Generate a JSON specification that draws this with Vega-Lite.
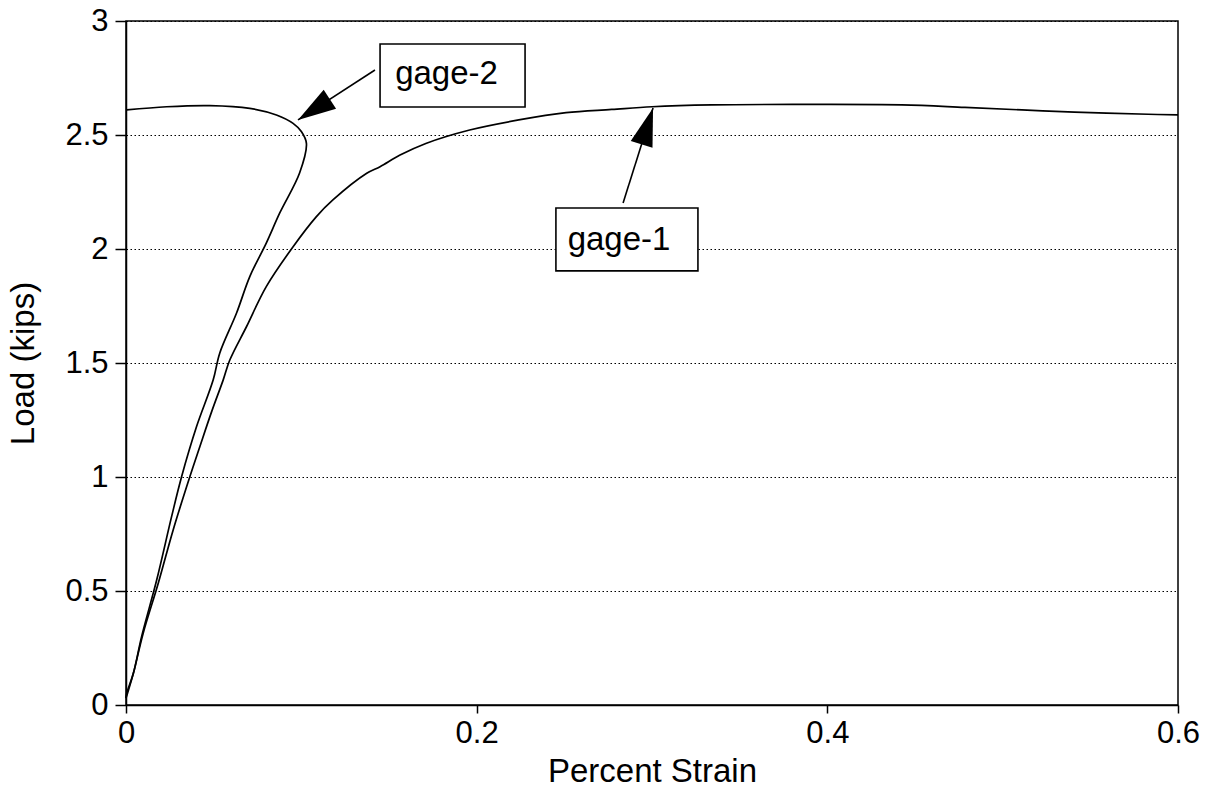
{
  "$schema": "https://vega.github.io/schema/vega-lite/v6.json",
  "width": 1052,
  "height": 684,
  "autosize": {"type": "none"},
  "padding": {"left": 126, "top": 21, "right": 32, "bottom": 88},
  "background": "white",
  "config": {
    "view": {"stroke": "black", "strokeWidth": 1.5},
    "font": "Liberation Sans",
    "axis": {
      "domainColor": "black",
      "domainWidth": 1.5,
      "tickColor": "black",
      "tickWidth": 1.5,
      "labelColor": "black",
      "labelFont": "Liberation Sans",
      "labelFontSize": 31,
      "titleFont": "Liberation Sans",
      "titleFontSize": 33,
      "titleFontWeight": "normal",
      "titleColor": "black",
      "gridColor": "black",
      "gridOpacity": 1,
      "gridWidth": 1.2,
      "labelFlush": false
    }
  },
  "datasets": {
    "curves": [
      {"gage": "gage-1", "i": 1, "x": 0, "y": 0.03},
      {"gage": "gage-1", "i": 2, "x": 0.0042, "y": 0.139},
      {"gage": "gage-1", "i": 3, "x": 0.0098, "y": 0.315},
      {"gage": "gage-1", "i": 4, "x": 0.0184, "y": 0.534},
      {"gage": "gage-1", "i": 5, "x": 0.0269, "y": 0.768},
      {"gage": "gage-1", "i": 6, "x": 0.0364, "y": 1.001},
      {"gage": "gage-1", "i": 7, "x": 0.0421, "y": 1.133},
      {"gage": "gage-1", "i": 8, "x": 0.049, "y": 1.29},
      {"gage": "gage-1", "i": 9, "x": 0.0554, "y": 1.425},
      {"gage": "gage-1", "i": 10, "x": 0.0592, "y": 1.513},
      {"gage": "gage-1", "i": 11, "x": 0.0687, "y": 1.659},
      {"gage": "gage-1", "i": 12, "x": 0.08, "y": 1.835},
      {"gage": "gage-1", "i": 13, "x": 0.0953, "y": 2.01},
      {"gage": "gage-1", "i": 14, "x": 0.1086, "y": 2.142},
      {"gage": "gage-1", "i": 15, "x": 0.118, "y": 2.215},
      {"gage": "gage-1", "i": 16, "x": 0.1373, "y": 2.332},
      {"gage": "gage-1", "i": 17, "x": 0.1449, "y": 2.361},
      {"gage": "gage-1", "i": 18, "x": 0.1563, "y": 2.412},
      {"gage": "gage-1", "i": 19, "x": 0.171, "y": 2.463},
      {"gage": "gage-1", "i": 20, "x": 0.196, "y": 2.522},
      {"gage": "gage-1", "i": 21, "x": 0.224, "y": 2.566},
      {"gage": "gage-1", "i": 22, "x": 0.251, "y": 2.598},
      {"gage": "gage-1", "i": 23, "x": 0.277, "y": 2.612},
      {"gage": "gage-1", "i": 24, "x": 0.3, "y": 2.624},
      {"gage": "gage-1", "i": 25, "x": 0.334, "y": 2.632},
      {"gage": "gage-1", "i": 26, "x": 0.384, "y": 2.634},
      {"gage": "gage-1", "i": 27, "x": 0.4425, "y": 2.632},
      {"gage": "gage-1", "i": 28, "x": 0.4785, "y": 2.621},
      {"gage": "gage-1", "i": 29, "x": 0.511, "y": 2.61},
      {"gage": "gage-1", "i": 30, "x": 0.541, "y": 2.6},
      {"gage": "gage-1", "i": 31, "x": 0.583, "y": 2.591},
      {"gage": "gage-1", "i": 32, "x": 0.6, "y": 2.588},
      {"gage": "gage-2", "i": 1, "x": 0, "y": 0.03},
      {"gage": "gage-2", "i": 2, "x": 0.0004, "y": 0.051},
      {"gage": "gage-2", "i": 3, "x": 0.0042, "y": 0.139},
      {"gage": "gage-2", "i": 4, "x": 0.0089, "y": 0.3},
      {"gage": "gage-2", "i": 5, "x": 0.0175, "y": 0.548},
      {"gage": "gage-2", "i": 6, "x": 0.026, "y": 0.826},
      {"gage": "gage-2", "i": 7, "x": 0.0317, "y": 1.001},
      {"gage": "gage-2", "i": 8, "x": 0.0402, "y": 1.22},
      {"gage": "gage-2", "i": 9, "x": 0.0497, "y": 1.425},
      {"gage": "gage-2", "i": 10, "x": 0.0535, "y": 1.544},
      {"gage": "gage-2", "i": 11, "x": 0.063, "y": 1.718},
      {"gage": "gage-2", "i": 12, "x": 0.0706, "y": 1.879},
      {"gage": "gage-2", "i": 13, "x": 0.08, "y": 2.026},
      {"gage": "gage-2", "i": 14, "x": 0.0877, "y": 2.158},
      {"gage": "gage-2", "i": 15, "x": 0.099, "y": 2.333},
      {"gage": "gage-2", "i": 16, "x": 0.1029, "y": 2.463},
      {"gage": "gage-2", "i": 17, "x": 0.1, "y": 2.515},
      {"gage": "gage-2", "i": 18, "x": 0.0953, "y": 2.551},
      {"gage": "gage-2", "i": 19, "x": 0.0858, "y": 2.588},
      {"gage": "gage-2", "i": 20, "x": 0.0706, "y": 2.617},
      {"gage": "gage-2", "i": 21, "x": 0.0478, "y": 2.629},
      {"gage": "gage-2", "i": 22, "x": 0.0232, "y": 2.624},
      {"gage": "gage-2", "i": 23, "x": 0.0004, "y": 2.61}
    ],
    "boxes": [
      {"label": "gage-2", "x": 0.1449, "x2": 0.2276, "y": 2.899, "y2": 2.623},
      {"label": "gage-1", "x": 0.2452, "x2": 0.3262, "y": 2.18, "y2": 1.904}
    ],
    "labels": [
      {"label": "gage-2", "x": 0.1828, "y": 2.724},
      {"label": "gage-1", "x": 0.2812, "y": 1.996}
    ],
    "arrows": [
      {"label": "gage-2", "x": 0.142, "y": 2.785, "x2": 0.0981, "y2": 2.566},
      {"label": "gage-1", "x": 0.2835, "y": 2.202, "x2": 0.3006, "y2": 2.618}
    ],
    "heads": [
      {"label": "gage-2", "x": 0.0981, "y": 2.566},
      {"label": "gage-1", "x": 0.3006, "y": 2.618}
    ]
  },
  "encoding": {
    "x": {
      "field": "x",
      "type": "quantitative",
      "scale": {"domain": [0, 0.6], "nice": false, "zero": false},
      "axis": {
        "title": "Percent Strain",
        "values": [0, 0.2, 0.4, 0.6],
        "format": "~g",
        "grid": false,
        "tickSize": 8,
        "labelPadding": 5,
        "titlePadding": 7
      }
    },
    "y": {
      "field": "y",
      "type": "quantitative",
      "scale": {"domain": [0, 3], "nice": false, "zero": false},
      "axis": {
        "title": "Load (kips)",
        "values": [0, 0.5, 1, 1.5, 2, 2.5, 3],
        "format": "~g",
        "grid": true,
        "gridDash": [1.5, 2.5],
        "tickSize": 11,
        "labelPadding": 7,
        "titlePadding": 24
      }
    }
  },
  "layer": [
    {
      "data": {"name": "curves"},
      "mark": {"type": "line", "color": "black", "strokeWidth": 1.7, "interpolate": "catmull-rom"},
      "encoding": {
        "detail": {"field": "gage", "type": "nominal"},
        "order": {"field": "i", "type": "quantitative"}
      }
    },
    {
      "data": {"name": "boxes"},
      "mark": {"type": "rect", "fill": "white", "stroke": "black", "strokeWidth": 1.6},
      "encoding": {
        "x2": {"field": "x2"},
        "y2": {"field": "y2"}
      }
    },
    {
      "data": {"name": "labels"},
      "mark": {"type": "text", "align": "center", "baseline": "alphabetic", "fontSize": 33, "font": "Liberation Sans", "color": "black"},
      "encoding": {
        "text": {"field": "label", "type": "nominal"}
      }
    },
    {
      "data": {"name": "arrows"},
      "mark": {"type": "rule", "color": "black", "strokeWidth": 1.6},
      "encoding": {
        "x2": {"field": "x2"},
        "y2": {"field": "y2"}
      }
    },
    {
      "data": {"name": "heads"},
      "transform": [{"filter": "datum.label == 'gage-2'"}],
      "mark": {"type": "point", "shape": "M0,0L0.3,1L-0.3,1Z", "filled": true, "color": "black", "opacity": 1, "size": 5776, "angle": 237},
      "encoding": {}
    },
    {
      "data": {"name": "heads"},
      "transform": [{"filter": "datum.label == 'gage-1'"}],
      "mark": {"type": "point", "shape": "M0,0L0.3,1L-0.3,1Z", "filled": true, "color": "black", "opacity": 1, "size": 5776, "angle": 17.5},
      "encoding": {}
    }
  ]
}
